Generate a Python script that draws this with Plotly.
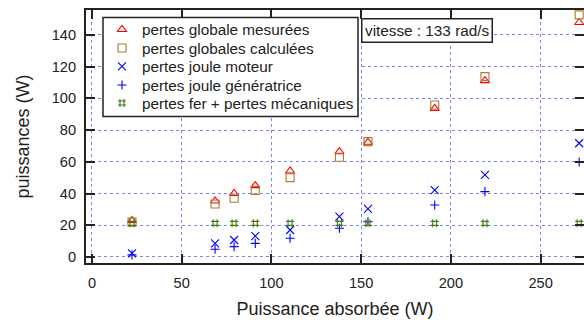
import plotly.graph_objects as go

P_abs = [22.3, 68.6, 79.2, 91.0, 110.4, 137.9, 153.8, 191.0, 219.0, 271.5]
pertes_mesurees = [23.0, 35.3, 40.0, 45.0, 54.2, 66.4, 72.3, 93.7, 111.2, 147.8]
pertes_calculees = [22.0, 33.4, 37.0, 42.0, 50.0, 62.9, 72.7, 95.8, 113.7, 152.6]
joule_moteur = [2.3, 8.6, 10.7, 13.2, 17.0, 25.4, 30.3, 42.2, 51.7, 71.7]
joule_generatrice = [1.3, 4.9, 6.5, 8.6, 11.8, 18.1, 22.3, 32.8, 41.2, 59.9]
fer_meca = [21.2, 21.2, 21.2, 21.2, 21.2, 21.2, 21.2, 21.2, 21.2, 21.2]

names = ["pertes globale mesurées", "pertes globales calculées", "pertes joule moteur",
         "pertes joule génératrice", "pertes fer + pertes mécaniques"]
series = [pertes_mesurees, pertes_calculees, joule_moteur, joule_generatrice, fer_meca]
symbols = ["triangle-up-open", "square-open", "x-thin-open", "cross-thin-open", "hash-open"]
colors = ["#ff0000", "#b07a30", "#0000ff", "#0000ff", "#3f7a10"]
sizes = [8, 8, 8, 6.5, 8]

FONT = "Liberation Sans, Arial, sans-serif"
FS = 15.3
TFS = 14.6

# Screen pixel geometry (page body margin removed below)
W, H = 584, 320
SL, SR, ST, SB = 86, 584, 10, 263  # plot area
L, T, R, B = SL, ST, W - SR, H - SB
PW, PH = SR - SL, SB - ST


def px_x(px):
    return (px - SL) / PW


def px_y(py):
    return (SB - py) / PH


fig = go.Figure()
legend_ids = ["legend", "legend2", "legend3", "legend4", "legend5"]
for n, s, sym, c, sz, lg in zip(names, series, symbols, colors, sizes, legend_ids):
    fig.add_trace(go.Scatter(x=P_abs, y=s, mode="markers", name=n, legend=lg,
                             marker=dict(symbol=sym, size=sz, color=c,
                                         line=dict(color=c, width=1.1)),
                             cliponaxis=False, hoverinfo="skip"))

# dummy trace for right-side ticks
fig.add_trace(go.Scatter(x=[None], y=[None], yaxis="y2", showlegend=False,
                         hoverinfo="skip"))

row_y = [29.5, 48, 66.5, 85, 103]
legends = {}
for lg, ry in zip(legend_ids, row_y):
    legends[lg] = dict(x=px_x(102), y=px_y(ry), xanchor="left", yanchor="middle",
                       bgcolor="rgba(0,0,0,0)", borderwidth=0,
                       font=dict(family=FONT, size=FS, color="#222"),
                       itemwidth=30)

yr = [-3.8, 155.7]
fig.update_layout(
    width=W, height=H,
    margin=dict(l=L, r=R, t=T, b=B, autoexpand=False),
    paper_bgcolor="white", plot_bgcolor="white",
    hovermode=False,
    font=dict(family=FONT, size=FS, color="#222"),
    xaxis=dict(range=[-3.34, 274.2], tickvals=[0, 50, 100, 150, 200, 250],
               tickfont=dict(size=TFS),
               showgrid=True, gridcolor="#8080ff", griddash="dot", gridwidth=1,
               zeroline=False, showline=True, linecolor="#222", linewidth=2,
               mirror="ticks", ticks="inside", ticklen=9, tickwidth=2, tickcolor="#222",
               automargin=False, ticklabelstandoff=5,
               title=dict(text="Puissance absorbée (W)", standoff=13)),
    yaxis=dict(range=yr, tickvals=[0, 20, 40, 60, 80, 100, 120, 140],
               tickfont=dict(size=TFS),
               showgrid=True, gridcolor="#8080ff", griddash="dot", gridwidth=1,
               zeroline=False, showline=True, linecolor="#222", linewidth=2,
               ticks="inside", ticklen=9, tickwidth=2, tickcolor="#222",
               automargin=False, ticklabelstandoff=5,
               title=dict(text="puissances (W)", standoff=17)),
    yaxis2=dict(range=yr, overlaying="y", side="right", showgrid=False,
                zeroline=False, showline=False, showticklabels=False,
                tickvals=[0, 20, 40, 60, 80, 100, 120, 140], automargin=False,
                ticks="inside", ticklen=9, tickwidth=2, tickcolor="#222"),
    showlegend=True,
    shapes=[dict(type="rect", xref="paper", yref="paper",
                 x0=px_x(103), x1=px_x(358), y0=px_y(116.5), y1=px_y(17.5),
                 line=dict(color="#222", width=1.5), fillcolor="white", layer="above")],
    annotations=[dict(text="vitesse : 133 rad/s", xref="paper", yref="paper",
                      x=px_x(361), y=px_y(17.5), xanchor="left", yanchor="top",
                      showarrow=False, bgcolor="white", bordercolor="#222",
                      borderwidth=1.5, borderpad=2.5,
                      font=dict(size=FS, color="#222"))],
    **legends,
)

fig.write_html("out.html",
               config={"displayModeBar": False, "staticPlot": True},
               post_script="document.body.style.margin='0';"
                           "document.body.style.overflow='hidden';")
